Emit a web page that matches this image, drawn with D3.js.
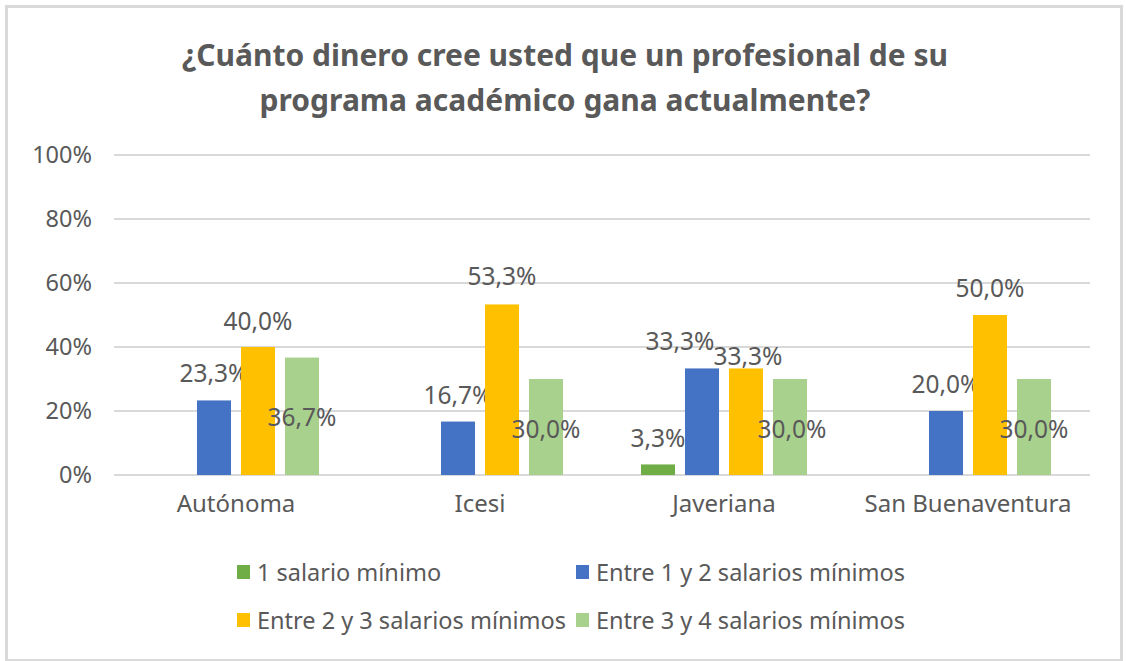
<!DOCTYPE html>
<html>
<head>
<meta charset="utf-8">
<script src="https://cdn.jsdelivr.net/npm/d3@7"></script>
<style>
  body { margin: 0; background: #fff; }
  svg text { font-family: "Noto Sans", "Open Sans", sans-serif; fill: #595959; }
</style>
</head>
<body>
<div id="chart"></div>
<script>
// data
const categories = ["Autónoma", "Icesi", "Javeriana", "San Buenaventura"];
const seriesNames = [
  "1 salario mínimo",
  "Entre 1 y 2 salarios mínimos",
  "Entre 2 y 3 salarios mínimos",
  "Entre 3 y 4 salarios mínimos",
];
const uno = [0, 0, 3.3, 0];
const entre1y2 = [23.3, 16.7, 33.3, 20.0];
const entre2y3 = [40.0, 53.3, 33.3, 50.0];
const entre3y4 = [36.7, 30.0, 30.0, 30.0];
const yTicks = [0, 20, 40, 60, 80, 100];

const colors = ["#70AD47", "#4472C4", "#FFC000", "#A9D18E"];
const allSeries = [uno, entre1y2, entre2y3, entre3y4];

// label nudges (dx, dy from bar top), the excel labels were moved by hand
const labelNudge = [
  [[0, -27], [0, -27], [0, -27], [0, -27]],
  [[0, -28], [0, -27], [-22, -28], [0, -28]],
  [[0, -27], [0, -29], [2, -13], [0, -28]],
  [[0, 59], [0, 49], [2, 49], [0, 49]],
];

const width = 1126;
const height = 661;
const margin = { top: 155, left: 114, right: 36, bottom: 186 };

const svg = d3
  .select("#chart")
  .append("svg")
  .attr("width", width)
  .attr("height", height);

// chart frame
svg
  .append("rect")
  .attr("x", 6.5)
  .attr("y", 6.5)
  .attr("width", 1115)
  .attr("height", 654)
  .attr("fill", "#fff")
  .attr("stroke", "#D9D9D9")
  .attr("stroke-width", 3);

// title
const title = svg
  .append("text")
  .attr("text-anchor", "middle")
  .style("font-size", "30px")
  .style("font-weight", "bold");
title.append("tspan").attr("x", 565).attr("y", 66).text("¿Cuánto dinero cree usted que un profesional de su");
title.append("tspan").attr("x", 565).attr("y", 111).text("programa académico gana actualmente?");

const x0 = d3
  .scaleBand()
  .domain(categories)
  .range([margin.left, width - margin.right]);

const x1 = d3
  .scaleBand()
  .domain(d3.range(seriesNames.length))
  .range([0, x0.bandwidth()])
  .paddingInner(0.227)
  .paddingOuter(0.886);

const y = d3
  .scaleLinear()
  .domain([0, 100])
  .range([height - margin.bottom, margin.top]);

// gridlines
svg
  .append("g")
  .selectAll("line")
  .data(yTicks)
  .enter()
  .append("line")
  .attr("x1", margin.left)
  .attr("x2", width - margin.right)
  .attr("y1", (d) => y(d))
  .attr("y2", (d) => y(d))
  .attr("stroke", "#D9D9D9")
  .attr("stroke-width", 2);

// y axis labels
const yAxis = d3
  .axisLeft(y)
  .tickValues(yTicks)
  .tickSize(0)
  .tickPadding(22)
  .tickFormat((d) => d + "%");
const yg = svg.append("g").attr("transform", `translate(${margin.left},0)`).call(yAxis);
yg.select(".domain").remove();
yg.selectAll("text").style("font-size", "23.5px").attr("fill", "#595959").style("font-family", null);

// x axis labels
const xAxis = d3.axisBottom(x0).tickSize(0).tickPadding(20);
const xg = svg.append("g").attr("transform", `translate(0,${y(0)})`).call(xAxis);
xg.select(".domain").remove();
xg.selectAll("text").style("font-size", "24px").attr("fill", "#595959").style("font-family", null);

// bars + labels (skip zero values, keep category index)
allSeries.forEach((vals, si) => {
  const pts = vals.map((v, ci) => ({ v: v, ci: ci })).filter((d) => d.v > 0);
  const g = svg.append("g");
  g.selectAll("rect")
    .data(pts)
    .enter()
    .append("rect")
    .attr("x", (d) => x0(categories[d.ci]) + x1(si))
    .attr("y", (d) => y(d.v))
    .attr("width", x1.bandwidth())
    .attr("height", (d) => y(0) - y(d.v))
    .attr("fill", colors[si]);

  g.selectAll("text")
    .data(pts)
    .enter()
    .append("text")
    .attr("text-anchor", "middle")
    .attr("dominant-baseline", "central")
    .attr("x", (d) => x0(categories[d.ci]) + x1(si) + x1.bandwidth() / 2 + labelNudge[si][d.ci][0])
    .attr("y", (d) => y(d.v) + labelNudge[si][d.ci][1])
    .style("font-size", "24.5px")
    .text((d) => d.v.toFixed(1).replace(".", ",") + "%");
});

// legend
const legendPos = [
  [237, 572],
  [576, 572],
  [237, 620],
  [576, 620],
];
const legend = svg
  .append("g")
  .selectAll("g")
  .data(seriesNames)
  .enter()
  .append("g")
  .attr("transform", (d, i) => `translate(${legendPos[i][0]},${legendPos[i][1]})`);
legend
  .append("rect")
  .attr("x", 0)
  .attr("y", -7)
  .attr("width", 13)
  .attr("height", 14)
  .attr("fill", (d, i) => colors[i]);
legend
  .append("text")
  .attr("x", 20)
  .attr("dominant-baseline", "central")
  .style("font-size", "23.5px")
  .text((d) => d);
</script>
</body>
</html>
